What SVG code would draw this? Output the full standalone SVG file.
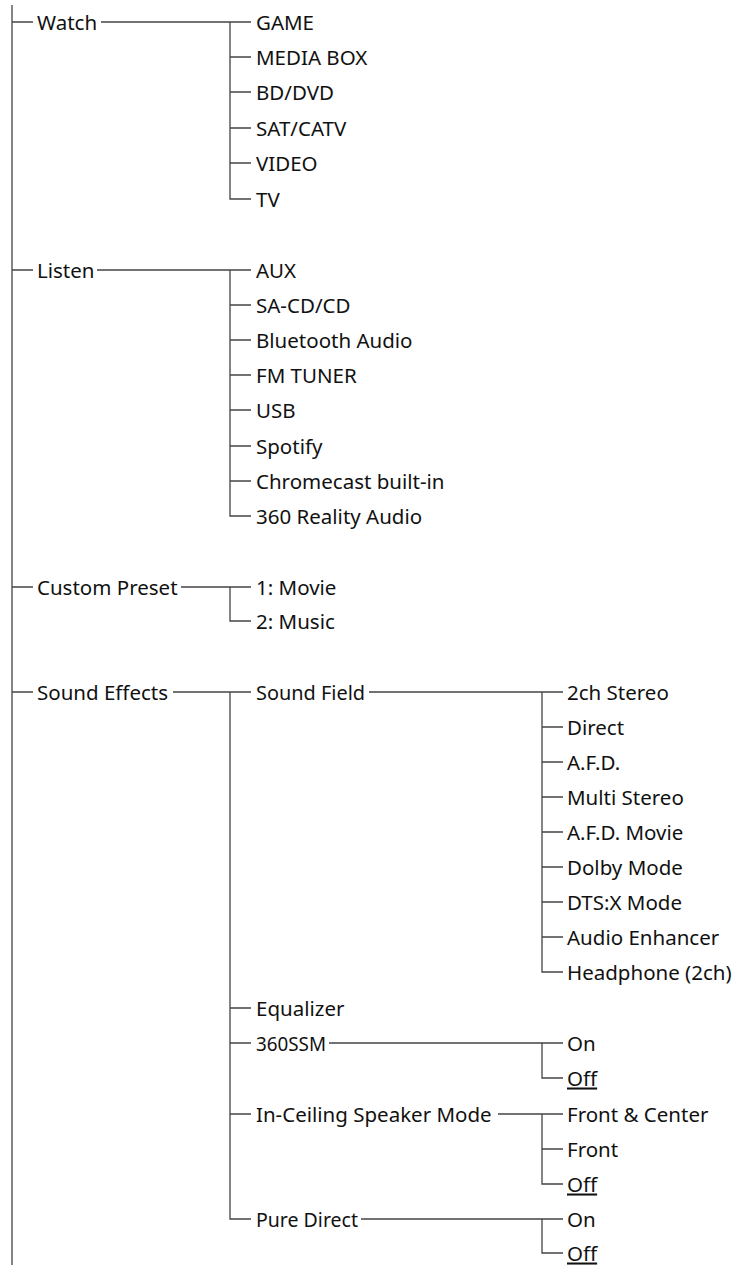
<svg xmlns="http://www.w3.org/2000/svg" width="741" height="1265" viewBox="0 0 741 1265">
<style>
text{font-family:"Noto Sans","Open Sans","Liberation Sans",sans-serif;font-size:20.5px;fill:#111}
.c path{fill:none;stroke:#444;stroke-width:1.3}
.u{text-decoration:underline}
</style>
<rect width="741" height="1265" fill="#fff"/>
<g class="c" id="connectors">
<path d="M12 5V1265"/>
<path d="M12 22H33M101 22H251M230 22V199H251M230 57H251M230 92H251M230 128H251M230 163H251"/>
<path d="M12 270H33M97 270H251M230 270V516H251M230 305H251M230 340H251M230 375H251M230 410H251M230 446H251M230 481H251"/>
<path d="M12 587H33M181 587H251M230 587V621H251"/>
<path d="M12 692H33M173 692H251M230 692V1219H251M230 1008H251M230 1043H251M230 1114H251"/>
<path d="M369 692H563M542 692V972H563M542 727H563M542 762H563M542 797H563M542 832H563M542 867H563M542 902H563M542 937H563"/>
<path d="M329 1043H563M542 1043V1078H563"/>
<path d="M498 1114H563M542 1114V1184H563M542 1149H563"/>
<path d="M361 1219H563M542 1219V1253H563"/>
</g>
<g id="n-watch"><text x="37" y="29.5">Watch</text></g>
<g id="n-watch-children">
<text x="256" y="29.5">GAME</text>
<text x="256" y="64.5">MEDIA BOX</text>
<text x="256" y="99.5">BD/DVD</text>
<text x="256" y="135.5">SAT/CATV</text>
<text x="256" y="170.5">VIDEO</text>
<text x="256" y="206.5">TV</text>
</g>
<g id="n-listen"><text x="37" y="277.5">Listen</text></g>
<g id="n-listen-children">
<text x="256" y="277.5">AUX</text>
<text x="256" y="312.5">SA-CD/CD</text>
<text x="256" y="347.5">Bluetooth Audio</text>
<text x="256" y="382.5">FM TUNER</text>
<text x="256" y="417.5">USB</text>
<text x="256" y="453.5">Spotify</text>
<text x="256" y="488.5">Chromecast built-in</text>
<text x="256" y="523.5">360 Reality Audio</text>
</g>
<g id="n-custom"><text x="37" y="594.5">Custom Preset</text></g>
<g id="n-custom-children">
<text x="256" y="594.5">1: Movie</text>
<text x="256" y="628.5">2: Music</text>
</g>
<g id="n-effects"><text x="37" y="699.5">Sound Effects</text></g>
<g id="n-soundfield"><text x="256" y="699.5" textLength="109" lengthAdjust="spacingAndGlyphs">Sound Field</text></g>
<g id="n-soundfield-children">
<text x="567" y="699.5">2ch Stereo</text>
<text x="567" y="734.5">Direct</text>
<text x="567" y="769.5">A.F.D.</text>
<text x="567" y="804.5">Multi Stereo</text>
<text x="567" y="839.5">A.F.D. Movie</text>
<text x="567" y="874.5">Dolby Mode</text>
<text x="567" y="909.5">DTS:X Mode</text>
<text x="567" y="944.5">Audio Enhancer</text>
<text x="567" y="979.5">Headphone (2ch)</text>
</g>
<g id="n-equalizer"><text x="256" y="1015.5">Equalizer</text></g>
<g id="n-360ssm"><text x="256" y="1050.5" textLength="70" lengthAdjust="spacingAndGlyphs">360SSM</text></g>
<g id="n-360ssm-children">
<text x="567" y="1050.5">On</text>
<text x="567" y="1085.5" class="u">Off</text>
</g>
<g id="n-inceiling"><text x="256" y="1121.5">In-Ceiling Speaker Mode</text></g>
<g id="n-inceiling-children">
<text x="567" y="1121.5">Front &amp; Center</text>
<text x="567" y="1156.5">Front</text>
<text x="567" y="1191.5" class="u">Off</text>
</g>
<g id="n-puredirect"><text x="256" y="1226.5" textLength="102" lengthAdjust="spacingAndGlyphs">Pure Direct</text></g>
<g id="n-puredirect-children">
<text x="567" y="1226.5">On</text>
<text x="567" y="1260.5" class="u">Off</text>
</g>
</svg>
